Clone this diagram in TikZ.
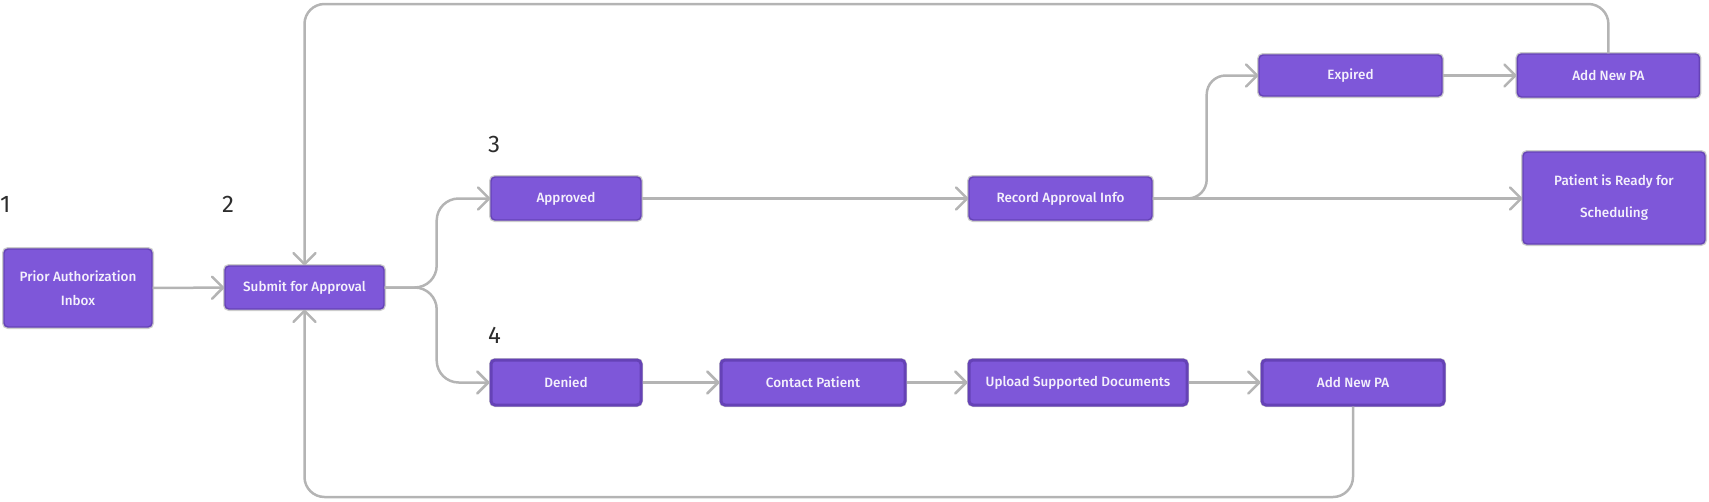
\documentclass[tikz,border=0pt]{standalone}
\usepackage{fontspec}
\setmainfont{Fira Sans}
\newfontfamily\boxfont{Fira Sans}[UprightFont=* Medium]
\usepackage{xcolor}
\usepackage{tikz}
\usetikzlibrary{arrows.meta,positioning,calc}

\definecolor{boxfill}{RGB}{126,87,217}
\definecolor{boxline}{RGB}{101,66,182}
\definecolor{halo}{RGB}{204,204,204}
\definecolor{linegray}{RGB}{180,180,180}
\definecolor{boxtext}{RGB}{244,240,252}
\definecolor{numtext}{RGB}{45,45,45}

\begin{document}
\begin{tikzpicture}[
        x=1pt, y=-1pt,
        stepbox/.style={rectangle, rounded corners=4pt, fill=boxfill, draw=boxline, line width=1.4pt,
            preaction={draw=halo, line width=4pt},
            text=boxtext, font=\boxfont\fontsize{13.5}{24}\selectfont, align=center,
            minimum height=43pt, inner sep=0pt},
        stepboxdark/.style={stepbox, preaction={draw=boxline, line width=1pt}, line width=3pt},
        steplabel/.style={anchor=base west, inner sep=0pt, text=numtext, font=\fontsize{24}{28}\selectfont},
        arrow/.style={-{Straight Barb[length=11pt, width=22pt, round]}, line width=2.5pt, draw=linegray},
        loop/.style={arrow, rounded corners=20pt}
    ]
        \useasboundingbox (0,0) rectangle (1709,501);

        % Step numbers
        \node[steplabel] (num1) at (0,212) {1};
        \node[steplabel] (num2) at (222,212) {2};
        \node[steplabel] (num3) at (488,152) {3};
        \node[steplabel] (num4) at (488,343) {4};

        % Steps
        \node[stepbox, minimum width=148pt, minimum height=78pt] (inbox) at (78,288) {Prior Authorization\\Inbox};
        \node[stepbox, minimum width=159pt] (submit) at (304.5,287.5) {Submit for Approval};
        \node[stepbox, minimum width=150pt] (approved) at (566,198.5) {Approved};
        \node[stepbox, minimum width=183pt] (record) at (1060.5,198.5) {Record Approval Info};
        \node[stepbox, minimum width=183pt, minimum height=41pt] (expired) at (1350.5,75.5) {Expired};
        \node[stepbox, minimum width=182pt, right=74pt of expired] (addtop) {Add New PA};
        \node[stepbox, minimum width=182pt, minimum height=92pt, font=\boxfont\fontsize{13.5}{32}\selectfont] (ready) at (1614,198) {Patient is Ready for\\Scheduling};

        % Denied path
        \node[stepboxdark, minimum width=150pt, minimum height=45pt] (denied) at (566,382.5) {Denied};
        \node[stepboxdark, minimum width=184pt, minimum height=45pt, right=77pt of denied] (contact) {Contact Patient};
        \node[stepboxdark, minimum width=218pt, minimum height=45pt, right=61pt of contact] (upload) {Upload Supported Documents};
        \node[stepboxdark, minimum width=182pt, minimum height=45pt, right=72pt of upload] (addbot) {Add New PA};

        \coordinate (topy) at (0,4);
        \coordinate (boty) at (0,497);

        % Connections
        \draw[arrow] (inbox) -- (submit);
        \draw[arrow, rounded corners=22pt] (submit.east) -- ++(52,0) |- (approved.west);
        \draw[arrow, rounded corners=22pt] (submit.east) -- ++(52,0) |- (denied.west);
        \draw[arrow] (approved) -- (record);
        \draw[arrow] (record.east) -- (record.east -| ready.west);
        \draw[arrow, rounded corners=19pt] (record.east) -- ++(54,0) |- (expired.west);
        \draw[arrow] (expired) -- (addtop);
        \draw[arrow] (denied) -- (contact);
        \draw[arrow] (contact) -- (upload);
        \draw[arrow] (upload) -- (addbot);

        % Loops back to submit
        \draw[loop] (addtop.north) -- (addtop.north |- topy) -| (submit.north);
        \draw[loop] (addbot.south) -- (addbot.south |- boty) -| (submit.south);

    \end{tikzpicture}
\end{document}
